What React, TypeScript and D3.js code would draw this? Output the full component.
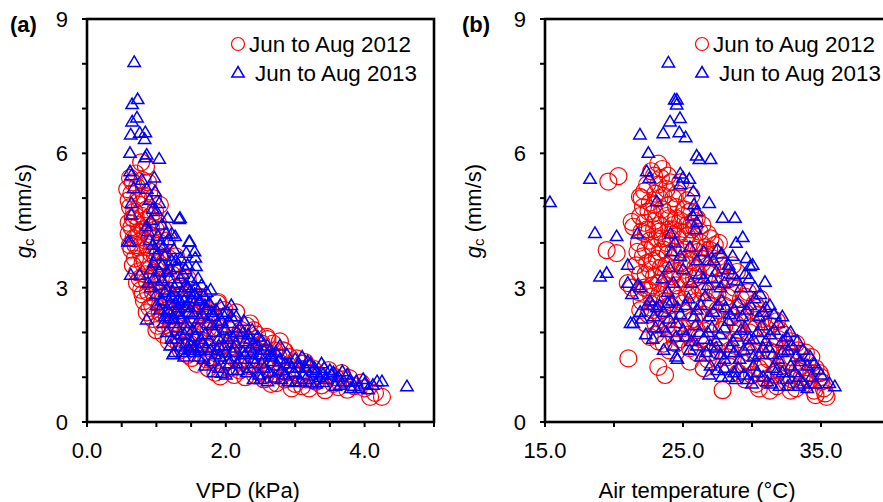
import React from "react";
import * as d3 from "d3";

// ---- tick labels ----
const vpdTicks = [0, 2, 4];
const taTicks = [15, 25, 35];
const gcTicks = [0, 3, 6, 9];
const seriesNames = ["Jun to Aug 2012", "Jun to Aug 2013"];

// ---- panel (a): [VPD kPa, gc mm/s] ----
const vpd2012: number[][] = [
  [0.78,5.8],[0.85,5.7],[0.62,5.45],[0.70,5.55],[0.80,5.4],[0.88,5.35],
  [0.58,5.2],[0.64,5.1],[0.72,5.25],[0.82,5.05],[0.95,5.0],[0.60,4.95],
  [0.62,4.8],[0.68,4.7],[0.76,4.85],[0.86,4.75],[0.98,4.7],[1.05,4.85],
  [0.60,4.45],[0.66,4.55],[0.74,4.4],[0.83,4.5],[0.92,4.35],[1.02,4.45],[1.10,4.3],
  [0.60,4.2],[0.67,4.1],[0.75,4.25],[0.84,4.05],[0.95,4.15],[1.05,4.0],[1.15,4.05],
  [0.64,3.85],[0.70,3.95],[0.78,3.75],[0.88,3.9],[0.98,3.7],[1.08,3.8],[1.18,3.65],[1.28,3.7],
  [0.66,3.5],[0.72,3.35],[0.80,3.55],[0.90,3.4],[1.00,3.3],[1.10,3.45],[1.22,3.3],[1.35,3.35],[1.45,3.2],
  [0.72,3.1],[0.78,2.95],[0.86,3.15],[0.95,2.9],[1.05,3.05],[1.15,2.85],[1.27,3.0],[1.38,2.85],[1.50,2.95],[1.62,2.8],
  [0.82,2.7],[0.90,2.55],[0.98,2.75],[1.10,2.6],[1.22,2.5],[1.35,2.65],[1.48,2.5],[1.60,2.6],[1.75,2.5],[1.88,2.65],
  [0.95,2.3],[1.02,2.15],[1.15,2.35],[1.30,2.2],[1.42,2.05],[1.55,2.3],[1.68,2.15],[1.80,2.25],[1.95,2.35],[2.10,2.2],[2.30,2.15],
  [1.10,1.95],[1.25,1.85],[1.40,1.7],[1.55,1.9],[1.70,1.8],[1.85,1.95],[2.00,1.75],[2.15,1.9],[2.30,1.85],[2.45,1.95],[2.60,1.85],
  [1.35,1.6],[1.51,1.43],[1.65,1.5],[1.80,1.4],[1.95,1.55],[2.10,1.45],[2.25,1.6],[2.40,1.5],[2.55,1.55],[2.70,1.6],[2.85,1.58],
  [1.75,1.2],[1.92,1.02],[2.05,1.2],[2.20,1.15],[2.35,1.25],[2.50,1.1],[2.65,1.2],[2.80,1.3],[2.95,1.15],[3.10,1.3],[3.25,1.2],[3.48,1.16],[3.67,1.09],
  [2.55,0.95],[2.73,0.87],[2.85,0.95],[3.00,0.85],[3.15,0.95],[3.30,0.9],[3.43,0.71],[3.55,0.85],[3.70,0.95],[3.85,0.8],[4.00,0.75],[4.08,0.56],[4.25,0.56],[3.20,0.75],
  [1.89,2.68],[2.35,2.2],[2.59,1.9],[2.83,1.6],[3.14,1.34],
  [0.66,5.35],[0.74,5.0],[0.90,5.15],[0.70,4.6],[0.80,4.6],[0.92,4.6],[0.64,4.35],[0.72,4.15],[0.80,4.3],[0.88,4.2],[0.99,4.3],
  [0.62,3.95],[0.74,3.9],[0.83,3.6],[0.93,3.75],[1.03,3.55],[1.13,3.6],[1.23,3.5],[0.69,3.65],[0.76,3.2],[0.84,3.3],[0.94,3.2],
  [1.04,3.45],[1.14,3.2],[1.30,3.15],[0.80,2.85],[0.88,2.9],[1.00,2.95],[1.09,2.8],[1.20,2.75],[1.32,2.8],[1.43,2.7],[1.55,2.75],
  [1.68,2.65],[0.86,2.45],[0.94,2.6],[1.05,2.45],[1.16,2.5],[1.28,2.35],[1.40,2.45],[1.52,2.4],[1.63,2.45],[1.78,2.4],[1.98,2.5],
  [2.15,2.45],[1.00,2.05],[1.08,2.2],[1.20,2.1],[1.35,2.0],[1.48,2.15],[1.62,2.0],[1.75,2.1],[1.90,2.1],[2.05,2.05],[2.22,2.05],
  [2.40,2.05],[1.18,1.8],[1.32,1.75],[1.48,1.75],[1.62,1.65],[1.78,1.65],[1.92,1.75],[2.08,1.65],[2.22,1.75],[2.38,1.7],[2.52,1.75],
  [2.68,1.75],[2.78,1.8],[1.45,1.5],[1.58,1.3],[1.72,1.4],[1.88,1.3],[2.02,1.35],[2.18,1.35],[2.32,1.4],[2.48,1.35],[2.62,1.4],
  [2.76,1.45],[2.92,1.45],[3.02,1.42],[1.85,1.1],[2.12,1.05],[2.28,1.0],[2.42,1.05],[2.58,1.05],[2.72,1.05],[2.88,1.1],[3.04,1.05],
  [3.18,1.1],[3.34,1.05],[3.58,1.0],[3.78,0.98],[2.65,0.85],[2.95,0.75],[3.10,0.8],[3.38,0.82],[3.62,0.78],[3.95,0.88],[4.15,0.65],[3.75,0.72]
];

const vpd2013: number[][] = [
  [0.68,8.03],[0.73,7.2],[0.65,7.09],[0.72,6.79],[0.65,6.70],[0.63,6.41],[0.76,6.45],[0.84,6.46],[0.83,6.31],
  [0.62,6.0],[0.86,5.96],[1.04,5.87],[0.84,5.9],[0.62,5.59],[0.64,5.5],[0.79,5.4],[0.97,5.45],[0.98,5.14],
  [0.67,5.21],[0.64,4.88],[0.90,4.95],[1.04,4.88],[1.16,4.55],[1.33,4.52],[0.64,4.62],[0.86,4.36],[0.62,4.02],
  [1.27,4.14],[1.47,4.02],[1.43,3.77],[1.56,3.66],[1.57,3.47],[0.63,3.28],[0.76,3.28],[0.59,4.02],[0.86,2.28],
  [1.24,1.5],[1.94,1.09],[2.0,1.05],[4.61,0.79],[4.25,0.9],[4.12,0.82],[4.0,0.85],[3.85,0.8],[3.78,0.9],
  [1.34,4.55],[1.48,4.02],[1.55,3.8],
  [0.92,4.5],[1.0,4.7],[1.08,4.4],
  [0.88,4.25],[0.95,3.95],[1.02,4.15],[1.10,3.9],[1.18,4.05],[1.25,3.85],
  [0.92,3.4],[1.00,3.7],[1.08,3.5],[1.15,3.35],[1.22,3.6],[1.30,3.45],[1.38,3.3],[1.45,3.5],
  [0.92,3.0],[1.0,2.85],[1.08,3.15],[1.15,2.95],[1.22,2.8],[1.30,3.1],[1.38,2.9],[1.46,3.0],[1.55,2.85],[1.65,3.05],[1.72,2.9],
  [1.05,2.5],[1.12,2.35],[1.20,2.65],[1.28,2.45],[1.36,2.3],[1.45,2.6],[1.54,2.4],[1.62,2.7],[1.72,2.5],[1.82,2.35],[1.92,2.6],[2.02,2.45],
  [1.15,2.0],[1.22,1.85],[1.30,2.1],[1.40,1.95],[1.50,1.8],[1.60,2.1],[1.70,1.95],[1.80,2.15],[1.90,1.85],[2.00,2.05],[2.10,1.9],[2.20,2.1],[2.32,1.95],
  [1.26,1.55],[1.35,1.7],[1.48,1.6],[1.60,1.45],[1.72,1.65],[1.85,1.5],[1.98,1.7],[2.10,1.55],[2.22,1.4],[2.35,1.65],[2.48,1.5],[2.60,1.7],[2.72,1.55],
  [1.70,1.25],[1.82,1.1],[2.05,1.3],[2.18,1.15],[2.30,1.1],[2.42,1.3],[2.55,1.2],[2.68,1.35],[2.80,1.15],[2.92,1.3],[3.05,1.2],[3.18,1.35],[3.30,1.1],[3.42,1.2],
  [2.40,0.95],[2.60,0.9],[2.80,0.95],[3.00,0.88],[3.15,0.95],[3.30,0.85],[3.45,0.95],[3.58,0.8],[3.70,0.9],[3.92,0.75],[4.05,0.72],[3.52,1.05],[3.35,1.0],
  [0.86,5.2],[0.95,4.75],[0.90,4.05],[0.98,3.85],
  [1.05,3.95],[1.14,4.2],[1.22,4.2],[0.96,3.55],[1.04,3.35],[1.12,3.7],[1.20,3.4],[1.28,3.6],[1.35,3.65],
  [1.42,3.4],[0.88,3.1],[0.96,3.2],[1.04,3.05],[1.12,2.9],[1.18,3.2],[1.26,3.0],[1.34,3.2],[1.42,3.05],[1.50,3.15],[1.60,3.2],
  [1.68,2.8],[1.78,2.95],[1.00,2.6],[1.08,2.7],[1.16,2.5],[1.24,2.6],[1.32,2.55],[1.40,2.7],[1.50,2.75],[1.58,2.55],[1.66,2.4],
  [1.76,2.65],[1.86,2.5],[1.96,2.4],[2.08,2.6],[2.15,2.35],[1.10,2.2],[1.18,2.3],[1.26,2.2],[1.34,2.4],[1.44,2.2],[1.52,2.05],
  [1.62,2.3],[1.74,2.2],[1.84,2.0],[1.94,2.25],[2.06,2.2],[2.16,2.0],[2.26,2.25],[2.38,2.05],[2.46,1.9],[1.20,1.7],[1.30,1.85],
  [1.42,1.75],[1.54,1.65],[1.64,1.85],[1.76,1.8],[1.90,1.7],[2.02,1.85],[2.14,1.75],[2.28,1.8],[2.40,1.75],[2.52,1.8],[2.64,1.6],
  [2.78,1.7],[1.40,1.45],[1.55,1.55],[1.68,1.4],[1.80,1.35],[1.92,1.45],[2.04,1.4],[2.16,1.3],[2.28,1.5],[2.40,1.4],[2.52,1.3],
  [2.66,1.45],[2.78,1.4],[2.88,1.5],[3.00,1.4],[3.10,1.45],[3.22,1.3],[1.90,1.2],[2.10,1.15],[2.35,1.2],[2.48,1.05],[2.62,1.1],
  [2.75,1.25],[2.86,1.05],[2.98,1.1],[3.12,1.05],[3.25,1.15],[3.38,1.3],[3.50,1.15],[3.62,1.0],[3.75,1.05],[3.88,0.9],[2.50,0.95],
  [2.70,0.98],[2.90,0.9],[3.08,0.9],[3.22,0.88],[3.40,0.88],[3.65,0.82],[3.80,0.75],[4.18,0.9],[3.98,0.95],
  [1.25,2.3],[1.33,2.65],[1.47,2.45],[1.58,2.75],[1.70,2.6],[1.80,2.45],[1.88,2.2],[1.98,2.1],[2.08,2.35],[2.25,2.0],
  [2.35,1.85],[2.45,1.7],[2.55,1.6],[2.65,1.5],[1.35,1.95],[1.45,2.05],[1.56,1.9],[1.66,1.75],[1.78,1.6],[1.88,1.6],
  [2.0,1.55],[2.12,1.65],[2.25,1.55],[2.38,1.55],[1.62,1.6],[1.50,1.7],[1.38,1.55],[1.18,2.45],[1.24,2.9],[1.32,2.75],
  [1.4,2.55],[1.48,2.9],[1.57,3.0],[2.85,1.3],[2.95,1.2],[3.05,1.3],[3.15,1.2],[3.28,1.2],[3.4,1.05],[3.55,1.1],[3.68,1.12]
];

// ---- panel (b): [air temperature °C, gc mm/s] ----
const ta2012: number[][] = [
  [19.59,5.37],[20.32,5.49],[19.47,3.84],[20.19,3.77],[21.04,1.42],[23.21,1.23],[23.7,1.05],[27.87,0.71],[23.21,5.77],
  [21.0,3.1],[21.3,3.0],[35.4,0.56],[35.3,0.64],[34.9,1.09],[21.28,4.47],[21.4,4.36],[21.88,5.03],
  [22.4,5.3],[22.9,5.5],[23.4,5.45],[23.0,5.1],[23.8,5.2],[24.3,5.0],[24.8,5.35],[25.3,4.95],[22.6,4.9],
  [21.9,4.6],[22.5,4.7],[23.0,4.5],[23.5,4.75],[24.0,4.55],[24.5,4.8],[25.0,4.6],[25.5,4.7],[26.0,4.55],[22.2,4.45],
  [21.8,4.0],[22.3,4.2],[22.8,3.9],[23.3,4.25],[23.8,4.0],[24.3,4.3],[24.8,3.95],[25.3,4.15],[25.8,4.35],[26.3,4.0],[26.8,4.2],[27.3,3.95],
  [21.6,3.5],[22.1,3.7],[22.6,3.4],[23.1,3.65],[23.6,3.3],[24.1,3.55],[24.6,3.75],[25.1,3.4],[25.6,3.6],[26.1,3.3],[26.6,3.7],[27.1,3.45],[27.6,3.6],[28.1,3.35],[28.6,3.5],
  [22.2,3.0],[22.7,2.8],[23.2,3.1],[23.7,2.7],[24.2,2.95],[24.7,2.75],[25.2,3.1],[25.7,2.85],[26.2,3.0],[26.7,2.7],[27.2,2.95],[27.7,3.15],[28.2,2.8],[28.7,3.0],[29.2,2.75],[29.7,2.9],[30.2,2.65],[30.6,2.75],
  [22.5,2.4],[23.0,2.2],[23.5,2.5],[24.0,2.3],[24.5,2.1],[25.0,2.45],[25.5,2.25],[26.0,2.05],[26.5,2.4],[27.0,2.2],[27.5,2.5],[28.0,2.15],[28.5,2.35],[29.0,2.05],[29.5,2.45],[30.0,2.2],[30.5,2.4],[31.0,2.1],[31.5,2.3],[32.0,2.05],
  [23.2,1.8],[24.0,1.6],[24.8,1.85],[25.5,1.65],[26.2,1.9],[27.0,1.55],[27.7,1.8],[28.4,1.6],[29.1,1.85],[29.8,1.55],[30.5,1.75],[31.2,1.6],[31.9,1.85],[32.5,1.65],[33.2,1.75],[33.6,1.5],
  [25.5,1.35],[26.5,1.2],[27.5,1.4],[28.3,1.25],[29.0,1.1],[29.8,1.35],[30.5,1.2],[31.2,1.4],[31.9,1.15],[32.6,1.3],[33.3,1.15],[34.0,1.35],[34.6,1.2],
  [29.5,0.95],[30.3,0.85],[31.0,0.95],[31.8,0.8],[32.5,0.9],[33.2,0.75],[33.9,0.85],[34.5,0.7],[35.0,0.9],
  [22.7,5.6],[23.5,5.65],[23.9,5.5],[22.2,5.15],[23.3,5.0],[24.0,4.85],[24.6,5.1],[25.6,5.05],[22.1,4.8],[22.8,4.65],[23.3,4.4],
  [23.8,4.6],[24.3,4.4],[24.8,4.5],[25.3,4.4],[25.8,4.5],[26.4,4.4],[22.0,4.25],[22.6,4.05],[23.1,4.1],[23.6,3.85],[24.1,4.1],
  [24.6,4.15],[25.1,3.85],[25.6,4.0],[26.1,3.8],[26.6,3.9],[27.0,4.1],[21.9,3.3],[22.4,3.55],[22.9,3.25],[23.4,3.45],[23.9,3.75],
  [24.4,3.35],[24.9,3.55],[25.4,3.25],[25.9,3.45],[26.4,3.55],[26.9,3.3],[27.4,3.75],[27.9,3.5],[28.4,3.2],[28.9,3.35],[22.0,2.7],
  [22.5,2.95],[23.0,2.65],[23.5,2.9],[24.0,2.6],[24.5,3.05],[25.0,2.65],[25.5,2.95],[26.0,2.7],[26.5,2.9],[27.0,2.6],[27.5,2.85],
  [28.0,2.6],[28.5,2.9],[29.0,2.55],[29.5,2.8],[30.0,2.5],[30.4,2.55],[23.0,1.95],[23.8,2.15],[24.3,1.95],[25.0,2.1],[25.8,2.3],
  [26.3,1.85],[27.2,2.35],[27.8,2.05],[28.8,2.2],[29.3,2.3],[29.8,2.0],[30.3,2.1],[30.8,2.3],[31.3,2.15],[31.8,2.25],[32.3,1.95],
  [32.8,1.8],[33.3,1.6],[33.9,1.55],[34.3,1.45],[26.0,1.55],[26.8,1.4],[27.5,1.6],[28.2,1.45],[28.8,1.7],[29.5,1.3],[30.2,1.55],
  [30.8,1.3],[31.6,1.55],[32.2,1.45],[32.9,1.45],[33.6,1.25],[34.3,1.1],[35.0,1.0],[30.0,1.05],[30.8,1.1],[31.5,1.05],[32.2,1.05],
  [32.9,0.95],[33.6,1.0],[34.2,0.95],[35.2,0.75],[30.5,0.75],[31.3,0.7],[32.8,0.7],[34.6,0.6],
  [22.0,5.0],[22.9,4.85],[23.6,5.05],[24.1,5.35],[23.2,5.3],[22.4,4.3],[22.9,4.3],[23.5,4.1],[24.0,4.3],[24.5,4.55],[25.1,4.75],
  [25.6,4.3],[26.2,4.25],[21.7,3.8],[22.3,3.85],[22.8,3.6],[23.3,3.8],[23.8,3.5],[24.3,3.8],[24.8,4.25],[25.3,3.65],[25.8,3.85],
  [26.3,3.65],[26.9,3.85],[27.6,4.0],[21.8,2.9],[22.3,3.3],[22.8,3.05],[23.3,2.85],[23.8,3.05],[24.2,3.25],[24.8,3.2],[25.3,2.85],
  [25.8,3.2],[21.9,2.5],[22.3,2.2],[22.8,2.5],[23.4,2.3],[22.6,1.9],[23.6,1.75],[24.5,1.75],[25.3,1.95]
];

const ta2013: number[][] = [
  [23.94,8.02],[24.4,7.19],[24.56,7.19],[24.54,7.08],[24.06,6.70],[24.78,6.78],[23.57,6.44],[21.88,6.41],[24.73,6.46],
  [25.19,6.35],[22.49,6.0],[25.99,5.94],[26.18,5.86],[27.0,5.86],[18.26,5.42],[15.36,4.90],[22.37,5.59],[22.56,5.44],
  [24.8,5.54],[25.0,5.45],[24.8,5.3],[25.46,5.42],[25.75,5.14],[26.9,4.88],[23.09,4.92],[25.8,4.85],[26.0,4.7],[25.7,4.6],
  [26.0,4.45],[25.9,4.3],[27.87,4.55],[28.77,4.55],[29.33,4.12],[28.84,3.99],[18.62,4.21],[20.19,4.14],[21.7,4.2],
  [29.6,3.65],[29.86,3.47],[30.05,3.5],[30.94,3.12],[18.99,3.24],[19.47,3.32],[21.0,3.5],[21.0,3.1],[21.3,2.85],
  [21.7,3.05],[21.9,3.0],[21.2,2.2],[21.4,2.2],[21.9,2.45],[22.3,1.95],[22.8,1.85],[23.6,1.6],[24.5,1.45],[24.6,1.4],
  [26.9,1.05],[27.8,1.0],[28.8,0.95],[34.2,1.46],[34.8,1.16],[35.6,0.86],[36.0,0.79],
  [24.1,4.2],[24.4,4.0],[24.2,3.8],[24.8,3.7],[25.5,3.9],[26.0,3.6],[26.5,3.8],[27.2,3.6],[27.8,3.75],[28.3,3.5],
  [23.5,3.2],[24.3,3.1],[25.0,3.4],[25.6,3.1],[26.2,3.3],[26.8,3.05],[27.4,3.35],[28.0,3.1],[28.6,3.3],[29.2,3.0],[29.8,3.2],[24.0,3.45],
  [22.4,2.6],[22.8,2.6],[23.1,2.55],[23.6,2.45],[24.2,2.7],[24.8,2.4],[25.4,2.75],[26.0,2.5],[26.6,2.8],[27.2,2.45],[27.8,2.7],[28.4,2.4],[29.0,2.65],[29.6,2.5],[30.2,2.75],[30.8,2.45],[31.3,2.6],
  [23.0,2.1],[23.8,2.0],[24.5,2.2],[25.2,1.9],[25.9,2.15],[26.5,1.85],[27.1,2.1],[27.7,1.95],[28.3,2.25],[28.9,1.9],[29.5,2.1],[30.1,1.85],[30.7,2.15],[31.3,1.95],[31.9,2.2],[32.5,1.9],
  [25.5,1.6],[26.3,1.45],[27.0,1.7],[27.7,1.5],[28.4,1.65],[29.1,1.4],[29.8,1.7],[30.5,1.5],[31.2,1.65],[31.9,1.4],[32.6,1.6],[33.2,1.45],[33.7,1.6],
  [27.5,1.15],[28.3,1.0],[29.0,1.2],[29.7,0.95],[30.4,1.1],[31.1,0.9],[31.8,1.15],[32.5,0.95],[33.1,1.1],[33.7,0.85],[34.3,1.0],[34.0,0.75],[32.0,0.8],
  [22.6,2.7],[23.3,2.6],[23.9,2.65],[24.6,2.55],[25.2,2.6],[25.8,2.35],[26.3,2.6],[26.9,2.35],[27.5,2.6],[28.1,2.55],[28.7,2.5],
  [29.3,2.35],[29.9,2.6],[30.5,2.35],[31.0,2.55],[31.6,2.4],[32.2,2.35],[26.5,3.2],[27.1,3.2],
  [27.7,3.0],[28.3,3.4],[28.9,3.15],[29.5,3.3],[30.2,3.0],[30.6,2.85],[26.8,3.6],[27.5,3.85],[28.6,3.7],
  [24.5,1.9],[25.0,2.05],[25.6,1.8],[26.2,2.0],[26.8,2.0],[27.4,1.8],[28.0,2.1],[28.6,1.8],[29.2,2.05],[29.8,1.85],[30.4,2.0],
  [31.0,1.8],[31.6,2.05],[32.2,1.8],[32.8,2.0],[33.3,1.8],[26.0,1.7],[26.7,1.55],[27.4,1.65],[28.0,1.4],[28.7,1.55],[29.4,1.6],
  [30.1,1.45],[30.8,1.65],[31.5,1.5],[32.2,1.55],[32.9,1.7],[33.5,1.35],[34.0,1.25],[27.0,1.25],[28.0,1.2],[28.7,1.1],[29.4,1.05],
  [30.1,1.25],[30.8,1.0],[31.5,1.2],[32.2,1.1],[32.8,1.25],[33.4,1.0],[34.5,1.3],[35.0,1.05],[30.0,0.85],[31.4,0.85],[32.6,0.8],
  [33.4,0.8],[34.6,0.85],[23.9,2.9],[22.0,2.3],[22.9,2.35],[23.5,2.1],[24.0,2.3],[24.3,1.7]
];

const FONT = "'Liberation Sans', Arial, Helvetica, sans-serif";
const RED = "#ff0000";
const BLUE = "#0000ff";
const triPath = "M0,-6.5 L6.2,4 L-6.2,4 Z";

type PanelProps = {
  letter: string;
  ox: number;
  xDomain: [number, number];
  xRangeEnd: number;
  xTicks: number[];
  xMinorStep: number;
  xFmt: (v: number) => string;
  xTitle: string;
  xTitleX: number;
  yTitleX: number;
  letterX: number;
  legendX: number;
  red: number[][];
  blue: number[][];
};

function Panel(p: PanelProps) {
  const top = 19, bottom = 422;
  const x = d3.scaleLinear().domain(p.xDomain).range([p.ox, p.xRangeEnd]);
  const y = d3.scaleLinear().domain([0, 9]).range([bottom, top]);
  const minorX = d3.range(p.xDomain[0], p.xDomain[1] + 1e-9, p.xMinorStep);
  const minorY = d3.range(0, 9.0001, 1);
  return (
    <g fontFamily={FONT}>
      <text x={p.letterX} y={32} fontSize={22} fontWeight="bold">{p.letter}</text>
      {p.red.map((d, i) => (
        <circle key={"r" + i} cx={x(d[0])} cy={y(d[1])} r={8.5} fill="none" stroke={RED} strokeWidth={1.2} />
      ))}
      {p.blue.map((d, i) => (
        <path key={"b" + i} d={triPath} transform={`translate(${x(d[0])},${y(d[1])})`} fill="none" stroke={BLUE} strokeWidth={1.5} />
      ))}
      <rect x={p.ox} y={top} width={p.xRangeEnd - p.ox} height={bottom - top} fill="none" stroke="#000" strokeWidth={2.6} />
      {minorY.map((v) => (
        <line key={"yt" + v} x1={p.ox - 5} x2={p.ox} y1={y(v)} y2={y(v)} stroke="#000" strokeWidth={2} />
      ))}
      {minorX.map((v) => (
        <line key={"xt" + v} x1={x(v)} x2={x(v)} y1={bottom} y2={bottom + 5} stroke="#000" strokeWidth={2} />
      ))}
      {gcTicks.map((v) => (
        <text key={"yl" + v} x={p.ox - 19} y={y(v) + 8} fontSize={22} textAnchor="end">{v}</text>
      ))}
      {p.xTicks.map((v) => (
        <text key={"xl" + v} x={x(v)} y={458} fontSize={22} textAnchor="middle">{p.xFmt(v)}</text>
      ))}
      <text x={p.xTitleX} y={498} fontSize={22} textAnchor="middle">{p.xTitle}</text>
      <text transform={`translate(${p.yTitleX},211) rotate(-90)`} fontSize={22} textAnchor="middle" dominantBaseline="central">
        <tspan fontStyle="italic">g</tspan>
        <tspan fontSize={15} dy={5}>c</tspan>
        <tspan dy={-5}> (mm/s)</tspan>
      </text>
      <circle cx={p.legendX} cy={44} r={6.5} fill="none" stroke={RED} strokeWidth={1.2} />
      <text x={p.legendX + 11} y={52} fontSize={22.4}>{seriesNames[0]}</text>
      <path d={triPath} transform={`translate(${p.legendX},73)`} fill="none" stroke={BLUE} strokeWidth={1.5} />
      <text x={p.legendX + 17} y={81} fontSize={22.4}>{seriesNames[1]}</text>
    </g>
  );
}

export default function App() {
  return (
    <svg width={883} height={502} style={{ position: "absolute", left: 0, top: 0, background: "#fff" }}>
      <rect width={883} height={502} fill="#fff" />
      <Panel
        letter="(a)" ox={87} xDomain={[0, 5]} xRangeEnd={434} xTicks={vpdTicks} xMinorStep={0.5}
        xFmt={(v) => v.toFixed(1)} xTitle="VPD (kPa)" xTitleX={248} yTitleX={23} letterX={10}
        legendX={238} red={vpd2012} blue={vpd2013}
      />
      <Panel
        letter="(b)" ox={545} xDomain={[15, 40]} xRangeEnd={890} xTicks={taTicks} xMinorStep={5}
        xFmt={(v) => v.toFixed(1)} xTitle="Air temperature (°C)" xTitleX={697} yTitleX={473} letterX={462}
        legendX={702} red={ta2012} blue={ta2013}
      />
    </svg>
  );
}
